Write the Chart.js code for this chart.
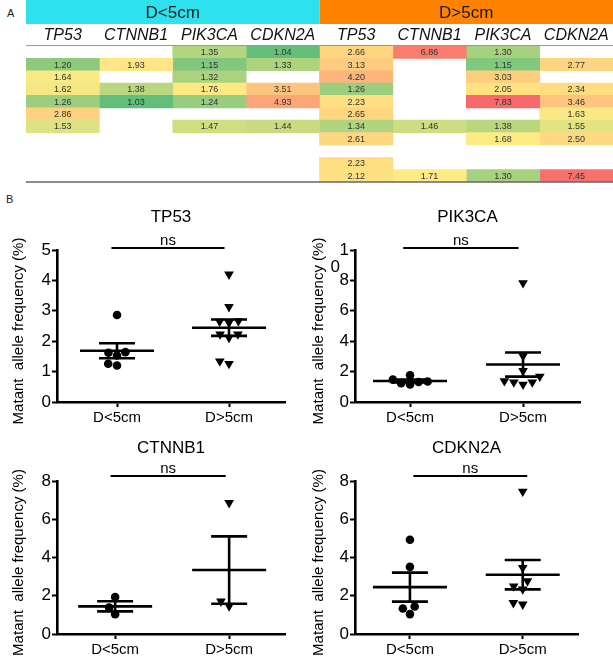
<!DOCTYPE html>
<html><head><meta charset="utf-8">
<script src="https://cdn.jsdelivr.net/npm/chart.js@4/dist/chart.umd.min.js"></script>
<style>
html,body{margin:0;padding:0;background:#fff;}
body{width:613px;height:660px;position:relative;overflow:hidden;font-family:"Liberation Sans",Arial,sans-serif;}
.box{position:absolute;}
.lbl{position:absolute;font-size:11px;color:#222;}
</style></head><body>
<div class="lbl" style="left:7px;top:7px">A</div>
<div class="lbl" style="left:6px;top:193px">B</div>
<div class="box" style="left:0;top:0;width:613px;height:190px"><canvas id="tbl"></canvas></div>
<div class="box" style="left:0;top:190px;width:305px;height:240px"><canvas id="cTP53"></canvas></div>
<div class="box" style="left:305px;top:190px;width:308px;height:240px"><canvas id="cPIK3CA"></canvas></div>
<div class="box" style="left:0;top:430px;width:305px;height:230px"><canvas id="cCTNNB1"></canvas></div>
<div class="box" style="left:305px;top:430px;width:308px;height:230px"><canvas id="cCDKN2A"></canvas></div>
<script>
// ---------------- DATA ----------------
const groups = ['D<5cm', 'D>5cm'];
const genes = ['TP53', 'CTNNB1', 'PIK3CA', 'CDKN2A'];
const rowIds = ['1','2','3','4','5','6','7','8','9','10','11'];
// D<5cm columns (one entry per table row, null = empty cell)
const smallTP53   = [null, 1.20, 1.64, 1.62, 1.26, 2.86, 1.53, null, null, null, null];
const smallCTNNB1 = [null, 1.93, null, 1.38, 1.03, null, null, null, null, null, null];
const smallPIK3CA = [1.35, 1.15, 1.32, 1.76, 1.24, null, 1.47, null, null, null, null];
const smallCDKN2A = [1.04, 1.33, null, 3.51, 4.93, null, 1.44, null, null, null, null];
// D>5cm columns
const largeTP53   = [2.66, 3.13, 4.20, 1.26, 2.23, 2.65, 1.34, 2.61, null, 2.23, 2.12];
const largeCTNNB1 = [6.86, null, null, null, null, null, 1.46, null, null, null, 1.71];
const largePIK3CA = [1.30, 1.15, 3.03, 2.05, 7.83, null, 1.38, 1.68, null, null, 1.30];
const largeCDKN2A = [null, 2.77, null, 2.34, 3.46, 1.63, 1.55, 2.50, null, null, 7.45];
// y-axis tick values of panel B plots
const yTicksTP53   = [0, 1, 2, 3, 4, 5];
const yTicksPIK3CA = [0, 2, 4, 6, 8, 10];
const yTicksCTNNB1 = [0, 2, 4, 6, 8];
const yTicksCDKN2A = [0, 2, 4, 6, 8];
const yTitle = 'Matant  allele frequency (%)';
const sigLabel = 'ns';

// ---------------- COMMON ----------------
const FONT = '"Liberation Sans", Arial, Helvetica, sans-serif';
Chart.defaults.font.family = FONT;
Chart.defaults.color = '#000';
Chart.defaults.animation = false;

// ---------------- PANEL A: heat table ----------------
const columns = [smallTP53, smallCTNNB1, smallPIK3CA, smallCDKN2A, largeTP53, largeCTNNB1, largePIK3CA, largeCDKN2A];
const allVals = columns.flat().filter(v => v != null).sort((a, b) => a - b);
const vMin = allVals[0], vMax = allVals[allVals.length - 1];
const nV = allVals.length;
const vMid = nV % 2 ? allVals[(nV - 1) / 2] : (allVals[nV / 2 - 1] + allVals[nV / 2]) / 2;
const GREEN = [99, 190, 123], YELLOW = [255, 235, 132], RED = [248, 105, 107];
function heatColor(v) {
  let a, b, t;
  if (v <= vMid) { a = GREEN; b = YELLOW; t = (v - vMin) / (vMid - vMin); }
  else { a = YELLOW; b = RED; t = (v - vMid) / (vMax - vMid); }
  const c = a.map((x, i) => Math.round(x + (b[i] - x) * t));
  return `rgb(${c[0]},${c[1]},${c[2]})`;
}
const tableDatasets = columns.map((col, c) => ({
  data: col.map(v => v == null ? null : [c, c + 1]),
  cellValues: col,
  backgroundColor: col.map(v => v == null ? 'rgba(0,0,0,0)' : heatColor(v)),
  borderWidth: 0,
  grouped: false,
  barPercentage: 1,
  categoryPercentage: 1
}));
const tablePlugin = {
  id: 'tableDeco',
  afterDatasetsDraw(chart) {
    const ctx = chart.ctx, xs = chart.scales.x, area = chart.chartArea;
    ctx.save();
    // header bands
    const bandCols = ['#2DE2EE', '#FF8300'];
    groups.forEach((g, i) => {
      const x0 = xs.getPixelForValue(i * 4), x1 = xs.getPixelForValue(i * 4 + 4);
      ctx.fillStyle = bandCols[i];
      ctx.fillRect(x0, 0, x1 - x0, 24);
      ctx.fillStyle = '#1a1a1a';
      ctx.font = '17px ' + FONT;
      ctx.textAlign = 'center'; ctx.textBaseline = 'middle';
      ctx.fillText(g, (x0 + x1) / 2, 13);
      genes.forEach((gn, j) => {
        const c0 = xs.getPixelForValue(i * 4 + j), c1 = xs.getPixelForValue(i * 4 + j + 1);
        ctx.font = 'italic 16px ' + FONT;
        ctx.fillStyle = '#111';
        ctx.fillText(gn, (c0 + c1) / 2, 36, c1 - c0 - 6);
      });
    });
    // rules
    ctx.strokeStyle = '#999'; ctx.lineWidth = 1;
    ctx.beginPath(); ctx.moveTo(area.left, area.top - 0.5); ctx.lineTo(area.right, area.top - 0.5); ctx.stroke();
    ctx.strokeStyle = '#666'; ctx.lineWidth = 1.5;
    ctx.beginPath(); ctx.moveTo(area.left, area.bottom); ctx.lineTo(area.right, area.bottom); ctx.stroke();
    // cell values
    ctx.font = '9px ' + FONT; ctx.fillStyle = '#333';
    ctx.textAlign = 'center'; ctx.textBaseline = 'middle';
    chart.data.datasets.forEach((ds, di) => {
      chart.getDatasetMeta(di).data.forEach((el, k) => {
        const v = ds.cellValues[k];
        if (v == null) return;
        ctx.fillText(v.toFixed(2), (el.x + el.base) / 2, el.y + 0.5);
      });
    });
    ctx.restore();
  }
};
new Chart(document.getElementById('tbl'), {
  type: 'bar',
  data: { labels: rowIds, datasets: tableDatasets },
  options: {
    indexAxis: 'y', responsive: true, maintainAspectRatio: false,
    layout: { padding: { left: 26, right: 0, top: 46, bottom: 8 } },
    plugins: { legend: { display: false }, tooltip: { enabled: false } },
    scales: {
      x: { type: 'linear', min: 0, max: 8, display: false },
      y: { display: false }
    }
  },
  plugins: [tablePlugin]
});

// ---------------- PANEL B: dot plots ----------------
function present(arr) { return arr.filter(v => v != null); }
function mean(a) { return a.reduce((s, v) => s + v, 0) / a.length; }
function sem(a) { const m = mean(a); return Math.sqrt(a.reduce((s, v) => s + (v - m) * (v - m), 0) / (a.length - 1)) / Math.sqrt(a.length); }
// simple beeswarm: spread overlapping markers horizontally (pixel space)
function swarm(vals, center, pxX, pxY, diam) {
  const order = vals.map((v, i) => i).sort((a, b) => vals[a] - vals[b]);
  const placed = [], out = new Array(vals.length);
  for (const i of order) {
    const py = vals[i] * pxY, forb = [];
    for (const p of placed) {
      const dy = Math.abs(py - p.py);
      if (dy < diam) { const w = Math.sqrt(diam * diam - dy * dy); forb.push([p.px - w, p.px + w]); }
    }
    const cands = [0];
    forb.forEach(f => cands.push(f[0], f[1]));
    cands.sort((a, b) => Math.abs(a) - Math.abs(b) || a - b);
    let best = 0;
    for (const c of cands) { if (forb.every(f => c <= f[0] + 1e-6 || c >= f[1] - 1e-6)) { best = c; break; } }
    placed.push({ px: best, py });
    out[i] = { x: center + best / pxX, y: vals[i] };
  }
  return out;
}

const plots = [
  { id: 'cTP53', gene: 'TP53', small: smallTP53, large: largeTP53, yTicks: yTicksTP53, xMin: 0.464, xMax: 2.5, w: 305, h: 240, area: { l: 57, r: 285, t: 60, b: 212 }, ns: [0.95, 1.96], labX: 19, split10: false },
  { id: 'cPIK3CA', gene: 'PIK3CA', small: smallPIK3CA, large: largePIK3CA, yTicks: yTicksPIK3CA, xMin: 0.513, xMax: 2.504, w: 308, h: 240, area: { l: 50, r: 275, t: 60, b: 212 }, ns: [0.94, 1.96], labX: 14, split10: true },
  { id: 'cCTNNB1', gene: 'CTNNB1', small: smallCTNNB1, large: largeCTNNB1, yTicks: yTicksCTNNB1, xMin: 0.49, xMax: 2.49, w: 305, h: 230, area: { l: 57, r: 285, t: 51, b: 204 }, ns: [0.96, 1.97], labX: 19, split10: false },
  { id: 'cCDKN2A', gene: 'CDKN2A', small: smallCDKN2A, large: largeCDKN2A, yTicks: yTicksCDKN2A, xMin: 0.513, xMax: 2.49, w: 308, h: 230, area: { l: 50, r: 273, t: 51, b: 204 }, ns: [1.03, 2.04], labX: 14, split10: false }
];

plots.forEach(p => {
  const yMax = p.yTicks[p.yTicks.length - 1];
  const pxX = (p.area.r - p.area.l) / (p.xMax - p.xMin);
  const pxY = (p.area.b - p.area.t) / yMax;
  const sVals = present(p.small), lVals = present(p.large);
  const stats = [sVals, lVals].map(a => ({ m: mean(a), s: sem(a) }));
  const deco = {
    id: 'deco' + p.gene,
    afterDatasetsDraw(chart) {
      const ctx = chart.ctx, xs = chart.scales.x, ys = chart.scales.y, A = chart.chartArea;
      ctx.save();
      ctx.strokeStyle = '#000'; ctx.lineWidth = 2.6; ctx.lineCap = 'butt';
      stats.forEach((st, i) => {
        const cx = xs.getPixelForValue(i + 1);
        const ym = ys.getPixelForValue(st.m), yt = ys.getPixelForValue(st.m + st.s), yb = ys.getPixelForValue(st.m - st.s);
        ctx.beginPath();
        ctx.moveTo(cx - 37, ym); ctx.lineTo(cx + 37, ym);
        ctx.moveTo(cx - 18, yt); ctx.lineTo(cx + 18, yt);
        ctx.moveTo(cx - 18, yb); ctx.lineTo(cx + 18, yb);
        ctx.moveTo(cx, yt); ctx.lineTo(cx, yb);
        ctx.stroke();
      });
      // significance bar
      const barY = A.top - (p.area.t > 55 ? 2 : 5);
      const x0 = xs.getPixelForValue(p.ns[0]), x1 = xs.getPixelForValue(p.ns[1]);
      ctx.lineWidth = 2.2;
      ctx.beginPath(); ctx.moveTo(x0, barY); ctx.lineTo(x1, barY); ctx.stroke();
      ctx.fillStyle = '#000';
      ctx.font = '15px ' + FONT; ctx.textAlign = 'center'; ctx.textBaseline = 'alphabetic';
      ctx.fillText(sigLabel, (x0 + x1) / 2, barY - 3);
      // title
      ctx.font = '17px ' + FONT; ctx.textBaseline = 'middle';
      ctx.fillText(p.gene, (A.left + A.right) / 2, A.top - 33);
      // y title
      ctx.save();
      ctx.translate(p.labX, (A.top + A.bottom) / 2 + 5);
      ctx.rotate(-Math.PI / 2);
      ctx.font = '15px ' + FONT; ctx.textAlign = 'center'; ctx.textBaseline = 'middle';
      ctx.fillText(yTitle, 0, 0);
      ctx.restore();
      // wrapped "10" label (second line)
      if (p.split10) {
        ctx.font = '17px ' + FONT; ctx.textAlign = 'right'; ctx.textBaseline = 'middle';
        ctx.fillText('0', A.left - 15, ys.getPixelForValue(yMax) + 17);
      }
      ctx.restore();
    }
  };
  new Chart(document.getElementById(p.id), {
    type: 'scatter',
    data: {
      datasets: [
        { data: swarm(sVals, 1, pxX, pxY, 9), pointStyle: 'circle', pointRadius: 4.3, backgroundColor: '#000', borderColor: '#000', borderWidth: 0, clip: false },
        { data: swarm(lVals, 2, pxX, pxY, 9.5), pointStyle: 'triangle', rotation: 180, pointRadius: 5.6, backgroundColor: '#000', borderColor: '#000', borderWidth: 0, clip: false }
      ]
    },
    options: {
      responsive: true, maintainAspectRatio: false,
      layout: { padding: { left: 0, top: p.area.t, right: p.w - p.area.r, bottom: 0 } },
      plugins: { legend: { display: false }, tooltip: { enabled: false } },
      scales: {
        x: {
          type: 'linear', min: p.xMin, max: p.xMax,
          afterBuildTicks: s => { s.ticks = [{ value: 1 }, { value: 2 }]; },
          afterFit: s => { s.height = p.h - p.area.b; },
          ticks: { callback: v => v === 1 ? groups[0] : (v === 2 ? groups[1] : ''), font: { size: 15 }, color: '#000', padding: 2, maxRotation: 0, autoSkip: false },
          grid: { display: true, drawOnChartArea: false, drawTicks: true, tickLength: 5, tickWidth: 2, tickColor: '#000' },
          border: { display: true, color: '#000', width: 2.6 }
        },
        y: {
          min: 0, max: yMax,
          afterBuildTicks: s => { s.ticks = p.yTicks.map(v => ({ value: v })); },
          afterFit: s => { s.width = p.area.l; },
          ticks: { callback: v => (p.split10 && v === yMax) ? '1' : String(v), font: { size: 17 }, color: '#000', padding: 1 },
          grid: { display: true, drawOnChartArea: false, drawTicks: true, tickLength: 5, tickWidth: 2, tickColor: '#000' },
          border: { display: true, color: '#000', width: 2.6 }
        }
      }
    },
    plugins: [deco]
  });
});
</script>
</body></html>
